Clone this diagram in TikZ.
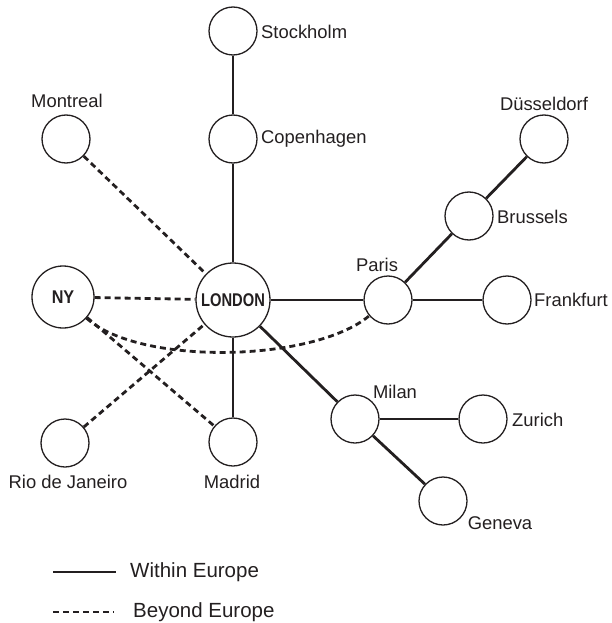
\documentclass[tikz,border=0pt]{standalone}
\usepackage{fontspec}
\usepackage{graphicx}
\setmainfont{Liberation Sans}
\definecolor{ink}{HTML}{231F20}
\begin{document}
\begin{tikzpicture}[x=1pt,y=-1pt,
  city/.style={circle,draw=ink,line width=1.3pt,fill=white,minimum size=48pt,inner sep=0pt},
  hub/.style={circle,draw=ink,line width=1.3pt,fill=white,inner sep=0pt},
  lbl/.style={text=ink,inner sep=0pt,font=\fontsize{18.4}{22}\selectfont},
  leglbl/.style={text=ink,inner sep=0pt,font=\fontsize{20.5}{24}\selectfont},
  boldlbl/.style={text=ink,inner sep=0pt,font=\fontsize{18.4}{22}\selectfont\bfseries},
  within/.style={draw=ink,line width=2.8pt},
  beyond/.style={draw=ink,line width=2.8pt,dash pattern=on 6pt off 4pt}]
\useasboundingbox (0,0) rectangle (612,623);
% nodes
\node[city] (sto) at (233,31) {};
\node[city] (cop) at (233,139) {};
\node[city] (mon) at (66,139) {};
\node[hub,minimum size=74pt] (lon) at (233,300) {};
\node[hub,minimum size=62pt] (ny) at (63,297) {};
\node[city] (par) at (388,300) {};
\node[city] (fra) at (507,300) {};
\node[city] (bru) at (469,216) {};
\node[city] (dus) at (544,139) {};
\node[city] (mil) at (355,419) {};
\node[city] (zur) at (483,419) {};
\node[city] (gen) at (443,501) {};
\node[city] (rio) at (65,443) {};
\node[city] (mad) at (233,442) {};
% edges within Europe
\draw[within] (sto) -- (cop);
\draw[within] (cop) -- (lon);
\draw[within] (lon) -- (par);
\draw[within] (lon) -- (mad);
\draw[within] (lon) -- (mil);
\draw[within] (par) -- (bru);
\draw[within] (bru) -- (dus);
\draw[within] (par) -- (fra);
\draw[within] (mil) -- (zur);
\draw[within] (mil) -- (gen);
% edges beyond Europe
\draw[beyond] (mon) -- (lon);
\draw[beyond] (ny) -- (lon);
\draw[beyond] (ny) -- (mad);
\draw[beyond] (rio) -- (lon);
\draw[beyond] (ny) to[out=-42,in=-140,looseness=0.65] (par);
% inner labels
\node[boldlbl] (lonT) at (lon) {\scalebox{0.8}[1]{LONDON}};
\node[boldlbl] (nyT) at (ny) {\scalebox{0.88}[1]{NY}};
% outer labels
\node[lbl,anchor=west] (stoT) at (261,32) {Stockholm};
\node[lbl,anchor=west] (copT) at (261,139) {Copenhagen};
\node[lbl] (monT) at (67,101) {Montreal};
\node[lbl] (dusT) at (544,104) {Düsseldorf};
\node[lbl,anchor=west] (bruT) at (497,217) {Brussels};
\node[lbl] (parT) at (377,265) {Paris};
\node[lbl,anchor=west] (fraT) at (534,300) {Frankfurt};
\node[lbl] (milT) at (395,392) {Milan};
\node[lbl,anchor=west] (zurT) at (512,420) {Zurich};
\node[lbl] (genT) at (500,523) {Geneva};
\node[lbl] (rioT) at (68,482) {Rio de Janeiro};
\node[lbl] (madT) at (232,482) {Madrid};
% legend
\coordinate (w1) at (53,572);
\coordinate (w2) at (116,572);
\coordinate (b1) at (53,612);
\coordinate (b2) at (114,612);
\draw[within] (w1) -- (w2);
\draw[beyond] (b1) -- (b2);
\node[leglbl,anchor=west] (wT) at (130,572) {Within Europe};
\node[leglbl,anchor=west] (bT) at (133,612) {Beyond Europe};
\end{tikzpicture}
\end{document}
